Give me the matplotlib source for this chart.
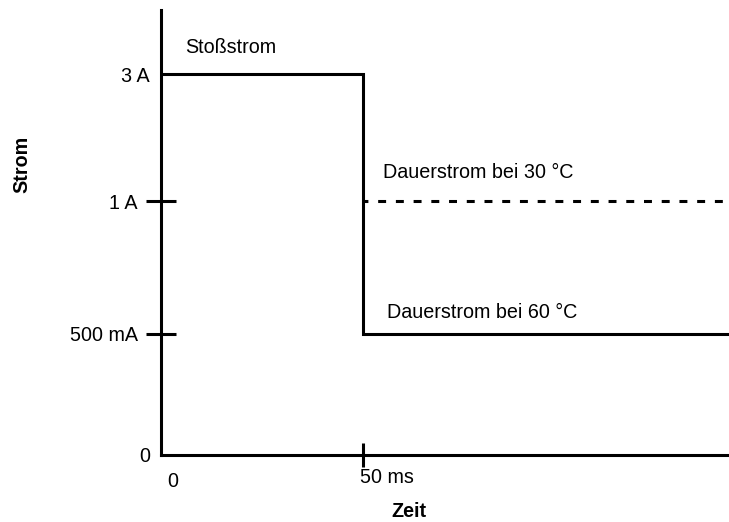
import numpy as np
import matplotlib.pyplot as plt
import matplotlib.transforms as mtransforms

plt.rcParams['font.family'] = ['Liberation Sans', 'DejaVu Sans']

# data (current in A, time in ms)
t_surge = [0, 50, 50, 140.6]
i_surge = [3, 3, 0.5, 0.5]          # Stossstrom, then Dauerstrom bei 60 C
t_cont30 = [50, 140.6]
i_cont30 = [1, 1]                    # Dauerstrom bei 30 C

ytick_major = [0.5, 1]
ytick_major_labels = ['500 mA', '1 A']
ytick_minor = [0, 3]
ytick_minor_labels = ['0', '3 A']
xtick_major = [50]
xtick_major_labels = ['50 ms']
xtick_minor = [0]
xtick_minor_labels = ['0']

# the current axis is not linear: the levels are spaced roughly evenly
vals = [0, 0.5, 1, 3, 5]
pos = [0, 0.953, 2.0, 3.0, 4.0]


def fwd(v):
    return np.interp(v, vals, pos)


def inv(p):
    return np.interp(p, pos, vals)


fig = plt.figure(figsize=(7.29, 5.22), dpi=100)
ax = fig.add_axes([0.2209, 0.1284, 0.7791, 0.8524])
ax.set_yscale('function', functions=(fwd, inv))

lw = 2.2
ax.plot(t_surge, i_surge, color='black', lw=lw, solid_joinstyle='miter')
ax.plot(t_cont30, i_cont30, color='black', lw=lw, linestyle=(1.0, (2.6, 3.2)))

ax.set_xlim(0, 140.6)
ax.set_ylim(0, 4.008)

for s in ['top', 'right']:
    ax.spines[s].set_visible(False)
for s in ['left', 'bottom']:
    ax.spines[s].set_linewidth(lw)

fs = 14.2
ax.set_yticks(ytick_major, ytick_major_labels)
ax.set_yticks(ytick_minor, ytick_minor_labels, minor=True)
ax.set_xticks(xtick_major, xtick_major_labels)
ax.set_xticks(xtick_minor, xtick_minor_labels, minor=True)

ax.tick_params(axis='y', which='major', direction='inout', length=21.6, width=lw,
               pad=5.8, labelsize=fs)
ax.tick_params(axis='y', which='minor', length=0, pad=8, labelsize=fs)
ax.tick_params(axis='x', which='major', direction='inout', length=17, width=lw,
               pad=1, labelsize=fs)
ax.tick_params(axis='x', which='minor', length=0, pad=12, labelsize=fs)
plt.setp(ax.get_xticklabels(which='both'), ha='left')

# nudge the x tick labels like in the original
for lbl in ax.xaxis.get_majorticklabels():
    lbl.set_transform(lbl.get_transform()
                      + mtransforms.ScaledTranslation(-0.03, 0, fig.dpi_scale_trans))
for lbl in ax.xaxis.get_minorticklabels():
    lbl.set_transform(lbl.get_transform()
                      + mtransforms.ScaledTranslation(0.06, 0, fig.dpi_scale_trans))

ax.set_ylabel('Strom', fontsize=fs, fontweight='bold', va='center')
ax.yaxis.set_label_coords(-0.2447, 0.652)
ax.set_xlabel('Zeit', fontsize=fs, fontweight='bold', va='center')
ax.xaxis.set_label_coords(0.4366, -0.128)

ax.annotate('Stoßstrom', xy=(0, 3), xytext=(17.3, 19.4), textcoords='offset points',
            fontsize=fs, va='center', ha='left')
ax.annotate('Dauerstrom bei 30 °C', xy=(50, 1), xytext=(14.4, 20.2),
            textcoords='offset points', fontsize=fs, va='center', ha='left')
ax.annotate('Dauerstrom bei 60 °C', xy=(50, 0.5), xytext=(17.3, 15.8),
            textcoords='offset points', fontsize=fs, va='center', ha='left')

fig.savefig('out.png', dpi=100)
